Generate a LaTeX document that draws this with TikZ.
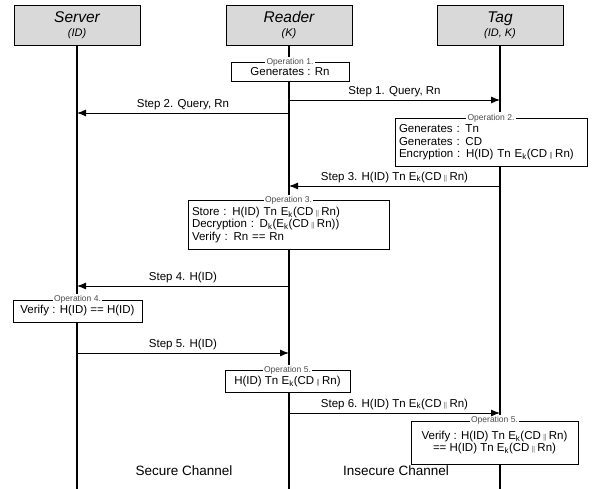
\documentclass[tikz,border=0pt]{standalone}
\usepackage{fontspec}
\setmainfont{Liberation Sans}
\usetikzlibrary{arrows.meta}
\newcommand{\ek}{E\textsubscript{k}}
\newcommand{\dk}{D\textsubscript{k}}
\newcommand{\conc}{\,{\scriptsize$\|$}\,}
\tikzstyle{actor} = [draw, fill=black!15, line width=0.8pt, minimum width=126pt, minimum height=40pt, align=center, inner sep=0pt]
\tikzstyle{lifeline} = [draw, line width=2.5pt]
\tikzstyle{msg} = [draw, line width=0.9pt, -{Latex[length=9pt,width=7pt]}]
\tikzstyle{steplabel} = [above, inner sep=3pt, font=\fontsize{11.5}{13}\selectfont]
\tikzstyle{oper} = [draw, fill=white, line width=0.8pt, font=\fontsize{11.5}{12.5}\selectfont, inner xsep=4pt, inner ysep=4pt, minimum height=22pt]
\tikzstyle{multi} = [inner ysep=6.5pt]
\tikzstyle{opname} = [anchor=center, fill=white, inner sep=1.5pt, font=\fontsize{8.5}{9}\selectfont, text=black!70]

\begin{document}
\begin{tikzpicture}[x=1pt, y=-1pt]
    \useasboundingbox (0,0) rectangle (599,489);
    \coordinate (bottom) at (0,489);
    % participants
    \node[actor] (server) at (77,25) {{\fontsize{15.5}{17}\selectfont\itshape Server}\\[2pt]{\fontsize{11}{12}\selectfont\itshape (ID)}};
    \node[actor] (reader) at (289,25) {{\fontsize{15.5}{17}\selectfont\itshape Reader}\\[2pt]{\fontsize{11}{12}\selectfont\itshape (K)}};
    \node[actor] (tag) at (500,25) {{\fontsize{15.5}{17}\selectfont\itshape Tag}\\[2pt]{\fontsize{11}{12}\selectfont\itshape (ID, K)}};
    \path[lifeline] (server.south) -- (server.south |- bottom);
    \path[lifeline] (reader.south) -- (reader.south |- bottom);
    \path[lifeline] (tag.south) -- (tag.south |- bottom);
    % heights of the messages
    \coordinate (m1) at (0,100);
    \coordinate (m2) at (0,113);
    \coordinate (m3) at (0,186);
    \coordinate (m4) at (0,286);
    \coordinate (m5) at (0,353);
    \coordinate (m6) at (0,413);
    % operations
    \node[oper, minimum width=118pt, minimum height=19pt, inner ysep=2pt, label={[opname]north:Operation 1.}] (op1) at (290,72) {Generates : Rn};
    \node[oper, multi, text width=184pt, align=left, label={[opname]north:Operation 2.}] (op2) at (491,142.5) {Generates : Tn\\Generates : CD\\Encryption : H(ID) Tn \ek(CD\conc Rn)};
    \node[oper, multi, text width=193pt, align=left, label={[opname]north:Operation 3.}] (op3) at (288.5,225) {Store : H(ID) Tn \ek(CD\conc Rn)\\Decryption : \dk(\ek(CD\conc Rn))\\Verify : Rn == Rn};
    \node[oper, minimum width=129pt, label={[opname]north:Operation 4.}] (op4) at (77.5,311) {Verify : H(ID) == H(ID)};
    \node[oper, minimum width=125pt, label={[opname]north:Operation 5.}] (op5) at (287.5,381.5) {H(ID) Tn \ek(CD\conc Rn)};
    \node[oper, multi, minimum width=167pt, minimum height=43pt, align=center, label={[opname]north:Operation 5.}] (op6) at (494.5,442.5) {Verify : H(ID) Tn \ek(CD\conc Rn)\\== H(ID) Tn \ek(CD\conc Rn)};
    % messages
    \path[msg] (reader |- m1) -- node[steplabel] {Step 1. Query, Rn} (tag |- m1);
    \path[msg] (reader |- m2) -- node[steplabel] {Step 2. Query, Rn} (server |- m2);
    \path[msg] (tag |- m3) -- node[steplabel] {Step 3. H(ID) Tn \ek(CD\conc Rn)} (reader |- m3);
    \path[msg] (reader |- m4) -- node[steplabel] {Step 4. H(ID)} (server |- m4);
    \path[msg] (server |- m5) -- node[steplabel] {Step 5. H(ID)} (reader |- m5);
    \path[msg] (reader |- m6) -- node[steplabel] {Step 6. H(ID) Tn \ek(CD\conc Rn)} (tag |- m6);
    % channels
    \node[font=\fontsize{13.5}{15}\selectfont] (secure) at (184,471) {Secure Channel};
    \node[font=\fontsize{13.5}{15}\selectfont] (insecure) at (396,471) {Insecure Channel};
\end{tikzpicture}
\end{document}
